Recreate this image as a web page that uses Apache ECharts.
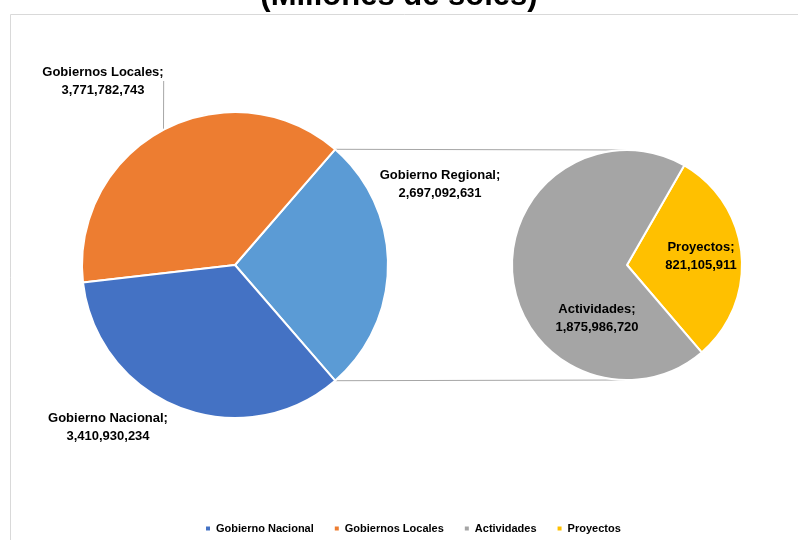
<!DOCTYPE html>
<html><head><meta charset="utf-8">
<script src="https://cdn.jsdelivr.net/npm/echarts@6/dist/echarts.min.js"></script>
<style>html,body{margin:0;padding:0;background:#fff}#c{width:798px;height:540px}</style>
</head><body><div id="c"></div>
<script>
// Data
var mainNames = ['Gobierno Regional', 'Gobiernos Locales', 'Gobierno Nacional'];
var mainValues = [2697092631, 3771782743, 3410930234];
var subNames = ['Proyectos', 'Actividades'];
var subValues = [821105911, 1875986720];
var legendNames = ['Gobierno Nacional', 'Gobiernos Locales', 'Actividades', 'Proyectos'];
var titleText = '(Millones de soles)';

var colors = {
  'Gobierno Nacional': '#4472C4',
  'Gobiernos Locales': '#ED7D31',
  'Gobierno Regional': '#5B9BD5',
  'Actividades': '#A5A5A5',
  'Proyectos': '#FFC000'
};
var FONT = '"Liberation Sans", Arial, sans-serif';
var C1 = [235, 265], R1 = 153;
var C2 = [627, 265], R2 = 115;

var total = mainValues.reduce(function(a,b){return a+b;},0);
var regAngle = mainValues[0] / total * 360;
var half = regAngle / 2;

function fmt(v){ return v.toString().replace(/\B(?=(\d{3})+(?!\d))/g, ','); }

var mainLabelPos = {
  'Gobiernos Locales': [103, 81],
  'Gobierno Regional': [440, 184],
  'Gobierno Nacional': [108, 427]
};
var subLabelPos = {
  'Proyectos': [701, 256],
  'Actividades': [597, 318]
};

var rad = half * Math.PI / 180;
var p1 = [C1[0] + R1 * Math.cos(rad), C1[1] - R1 * Math.sin(rad)];
var p2 = [C1[0] + R1 * Math.cos(rad), C1[1] + R1 * Math.sin(rad)];

var chart = echarts.init(document.getElementById('c'));
chart.setOption({
  animation: false,
  title: {
    text: titleText, left: 'center', top: -24,
    textStyle: { fontFamily: FONT, fontSize: 31, fontWeight: 'bold', color: '#000' }
  },
  legend: {
    data: legendNames, bottom: 1, left: 199,
    icon: 'rect', itemWidth: 6, itemHeight: 6, itemGap: 19,
    textStyle: { fontFamily: FONT, fontSize: 11, fontWeight: 'bold', color: '#000' }
  },
  graphic: [
    { type: 'rect', shape: { x: 10.5, y: 14.5, width: 800, height: 560 }, style: { fill: 'none', stroke: '#d9d9d9', lineWidth: 1 }, silent: true, z: -1 },
    { type: 'line', shape: { x1: p1[0], y1: p1[1], x2: C2[0], y2: C2[1] - R2 }, style: { stroke: '#a6a6a6', lineWidth: 1 }, z: 0 },
    { type: 'line', shape: { x1: p2[0], y1: p2[1], x2: C2[0], y2: C2[1] + R2 }, style: { stroke: '#a6a6a6', lineWidth: 1 }, z: 0 }
  ],
  series: [
    {
      type: 'pie', center: C1, radius: R1,
      clockwise: false, startAngle: -half,
      itemStyle: { borderColor: '#fff', borderWidth: 2 },
      label: {
        show: true, position: 'outside',
        formatter: function(p){ return p.name + ';\n' + fmt(p.value); },
        fontFamily: FONT, fontSize: 13, fontWeight: 'bold', color: '#000', lineHeight: 18, align: 'center'
      },
      labelLine: { show: false },
      labelLayout: function(p){
        var pos = mainLabelPos[mainNames[p.dataIndex]];
        return { x: pos[0], y: pos[1], align: 'center', verticalAlign: 'middle' };
      },
      data: mainNames.map(function(n, i){
        var d = { name: n, value: mainValues[i], itemStyle: { color: colors[n] } };
        if (n === 'Gobiernos Locales') d.labelLine = { show: true, length: 10, length2: 0, lineStyle: { color: '#a6a6a6', width: 1 } };
        return d;
      })
    },
    {
      type: 'pie', center: C2, radius: R2,
      clockwise: false, startAngle: -49.5,
      itemStyle: { borderColor: '#fff', borderWidth: 2 },
      label: {
        show: true, position: 'inside',
        formatter: function(p){ return p.name + ';\n' + fmt(p.value); },
        fontFamily: FONT, fontSize: 13, fontWeight: 'bold', color: '#000', lineHeight: 18, align: 'center'
      },
      labelLayout: function(p){
        var pos = subLabelPos[subNames[p.dataIndex]];
        return { x: pos[0], y: pos[1], align: 'center', verticalAlign: 'middle' };
      },
      data: subNames.map(function(n, i){ return { name: n, value: subValues[i], itemStyle: { color: colors[n] } }; })
    }
  ]
});
</script></body></html>
